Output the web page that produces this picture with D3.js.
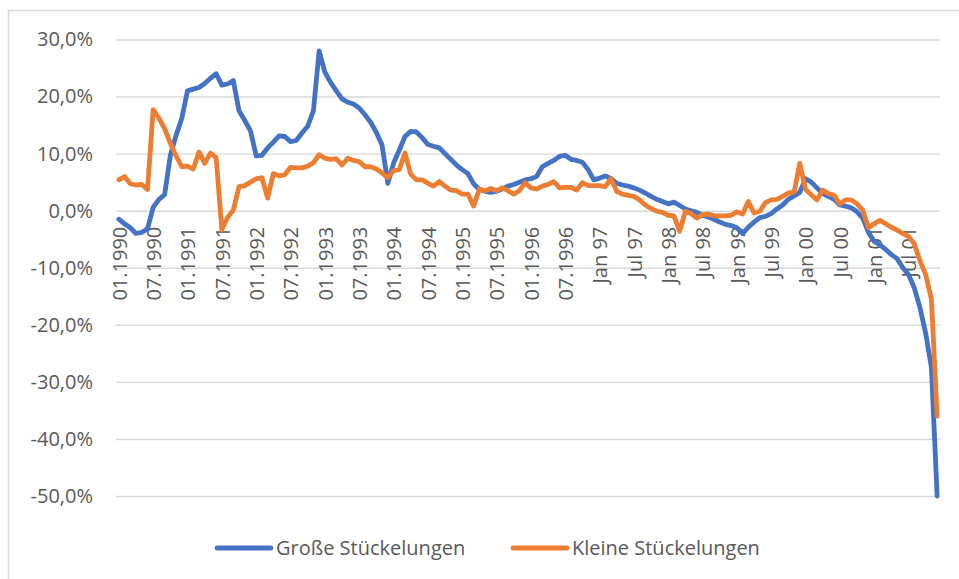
<!DOCTYPE html>
<html>
<head>
<meta charset="utf-8">
<script src="https://cdn.jsdelivr.net/npm/d3@7"></script>
<style>
    body { margin: 0; background: #fff; }
    text { font-family: 'Open Sans', 'Segoe UI', sans-serif; fill: #595959; }
</style>
</head>
<body>
<div id="chart"></div>
<script>
// Monatswerte Jan 1990 - Dez 2001, Veränderung in %
const grosse = [
    -1.5, -2.3, -3.0, -4.0, -3.8, -3.2, 0.6, 2.0, 2.8, 9.7, 13.2, 16.2,
    21.0, 21.3, 21.6, 22.3, 23.2, 24.0, 22.0, 22.2, 22.8, 17.5, 15.8, 14.0,
    9.6, 9.7, 11.0, 12.0, 13.1, 13.0, 12.1, 12.3, 13.6, 14.8, 17.5, 28.0,
    24.3, 22.5, 21.0, 19.6, 19.0, 18.7, 18.0, 16.8, 15.5, 13.7, 11.5, 4.8,
    8.3, 10.6, 13.0, 13.9, 13.8, 12.8, 11.6, 11.3, 11.0, 10.0, 9.0, 8.0,
    7.2, 6.5, 4.7, 3.7, 3.4, 3.2, 3.4, 3.8, 4.3, 4.6, 5.0, 5.4,
    5.6, 6.0, 7.7, 8.3, 8.8, 9.5, 9.7, 9.0, 8.8, 8.5, 7.2, 5.4,
    5.7, 6.1, 5.6, 4.8, 4.5, 4.3, 4.0, 3.6, 3.1, 2.5, 2.0, 1.6,
    1.2, 1.5, 0.9, 0.3, 0.0, -0.3, -0.8, -1.1, -1.5, -2.0, -2.4, -2.6,
    -3.0, -4.0, -2.9, -2.0, -1.2, -1.0, -0.5, 0.3, 1.0, 2.0, 2.6, 3.2,
    5.6, 5.0, 4.0, 3.0, 2.5, 2.0, 1.0, 0.8, 0.5, -0.2, -1.3, -3.8,
    -5.4, -6.0, -6.8, -7.7, -8.4, -10.0, -11.2, -13.5, -17.0, -21.5, -27.5, -50.0,
];
const kleine = [
    5.4, 6.0, 4.7, 4.5, 4.6, 3.7, 17.7, 16.2, 14.4, 11.8, 9.6, 7.7,
    7.8, 7.3, 10.3, 8.3, 10.1, 9.3, -3.3, -1.2, 0.1, 4.2, 4.4, 5.0,
    5.6, 5.8, 2.2, 6.5, 6.1, 6.3, 7.6, 7.5, 7.5, 7.8, 8.4, 9.8,
    9.2, 9.0, 9.1, 8.0, 9.2, 8.8, 8.6, 7.7, 7.7, 7.3, 6.6, 5.8,
    7.0, 7.2, 10.1, 6.4, 5.4, 5.4, 4.8, 4.3, 5.1, 4.3, 3.6, 3.5,
    2.9, 2.9, 0.8, 3.8, 3.5, 3.9, 3.5, 4.0, 3.5, 2.9, 3.5, 4.9,
    4.0, 3.8, 4.3, 4.6, 5.1, 4.0, 4.1, 4.1, 3.6, 4.9, 4.4, 4.4,
    4.4, 4.2, 5.6, 3.4, 2.9, 2.7, 2.5, 1.9, 1.0, 0.4, -0.1, -0.3,
    -0.8, -0.9, -3.6, -0.1, -0.5, -1.3, -0.7, -0.6, -0.9, -0.9, -0.9, -0.8,
    -0.2, -0.6, 1.6, -0.4, -0.1, 1.4, 1.9, 2.0, 2.5, 3.1, 3.2, 8.3,
    3.7, 2.8, 1.9, 3.6, 3.0, 2.7, 1.2, 1.9, 1.9, 1.2, 0.1, -3.0,
    -2.3, -1.7, -2.3, -2.9, -3.4, -4.0, -4.5, -5.8, -8.8, -11.2, -15.5, -36.0,
];
const tickLabels = [
    '01.1990', '07.1990', '01.1991', '07.1991', '01.1992', '07.1992',
    '01.1993', '07.1993', '01.1994', '07.1994', '01.1995', '07.1995',
    '01.1996', '07.1996', 'Jan 97', 'Jul 97', 'Jan 98', 'Jul 98',
    'Jan 99', 'Jul 99', 'Jan 00', 'Jul 00', 'Jan 01', 'Jul 01',
];
const yTicks = [30, 20, 10, 0, -10, -20, -30, -40, -50];
const seriesNames = ['Große Stückelungen', 'Kleine Stückelungen'];
const seriesColors = ['#4472c4', '#ed7d31'];

const width = 959;
const height = 579;
const plot = { left: 116, right: 940, top: 39.5, bottom: 496 };

const svg = d3
    .select('#chart')
    .append('svg')
    .attr('width', width)
    .attr('height', height);

// Rahmen des Diagrammbereichs
svg.append('rect')
    .attr('x', 8.5)
    .attr('y', 10.5)
    .attr('width', 1000)
    .attr('height', 600)
    .attr('fill', '#fff')
    .attr('stroke', '#d9d9d9')
    .attr('stroke-width', 1.5);

const x = d3
    .scalePoint()
    .domain(d3.range(grosse.length))
    .range([plot.left, plot.right])
    .padding(0.5);

const y = d3
    .scaleLinear()
    .domain([-50, 30])
    .range([plot.bottom, plot.top]);

const de = d3.formatLocale({
    decimal: ',',
    thousands: '.',
    grouping: [3],
    currency: ['', ' €'],
    minus: '-',
});
const fmt = de.format('.1f');

// Y-Achse mit Gitternetzlinien
const yAxis = svg
    .append('g')
    .attr('transform', 'translate(' + plot.left + ',0)')
    .call(
        d3.axisLeft(y)
            .tickValues(yTicks)
            .tickSize(-(plot.right - plot.left))
            .tickPadding(23)
            .tickFormat(d => fmt(d) + '%'),
    );
yAxis.select('.domain').remove();
yAxis.selectAll('line')
    .attr('stroke', '#d9d9d9')
    .attr('stroke-width', 1.4);
yAxis.selectAll('text')
    .style('font-size', '20px')
    .attr('fill', '#595959');

// X-Achse bei 0 %, Beschriftung senkrecht
const xAxis = svg
    .append('g')
    .attr('transform', 'translate(0,' + y(0) + ')')
    .call(
        d3.axisBottom(x)
            .tickValues(d3.range(0, grosse.length, 6))
            .tickSize(0)
            .tickFormat((d, i) => tickLabels[i]),
    );
xAxis.select('.domain').remove();
xAxis.selectAll('text')
    .style('font-size', '20px')
    .attr('fill', '#595959')
    .attr('text-anchor', 'end')
    .attr('transform', 'rotate(-90)')
    .attr('x', -16)
    .attr('y', 0)
    .attr('dy', '0.36em');

const line = d3
    .line()
    .x((d, i) => x(i))
    .y(d => y(d));

[grosse, kleine].forEach((values, k) => {
    svg.append('path')
        .datum(values)
        .attr('fill', 'none')
        .attr('stroke', seriesColors[k])
        .attr('stroke-width', 4.8)
        .attr('stroke-linejoin', 'round')
        .attr('stroke-linecap', 'round')
        .attr('d', line);
});

// Legende
const legendX = [217, 513];
const legend = svg
    .append('g')
    .selectAll('g')
    .data(seriesNames)
    .enter()
    .append('g')
    .attr('transform', (d, i) => 'translate(' + legendX[i] + ',548)');

legend.append('line')
    .attr('x1', 0)
    .attr('x2', 54)
    .attr('stroke', (d, i) => seriesColors[i])
    .attr('stroke-width', 4.8)
    .attr('stroke-linecap', 'round');

legend.append('text')
    .attr('x', 59)
    .attr('dy', '0.35em')
    .style('font-size', '20px')
    .text(d => d);
</script>
</body>
</html>
